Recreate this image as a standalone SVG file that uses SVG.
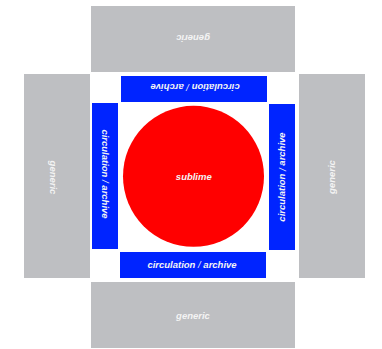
<svg xmlns="http://www.w3.org/2000/svg" width="382" height="349" viewBox="0 0 382 349">
<style>
.g{fill:#bebfc2}
.b{fill:#0024ff}
.t{font-family:"Liberation Sans",Arial,sans-serif;font-size:9.5px;font-weight:bold;font-style:italic;fill:#f4f4f4;text-anchor:middle;dominant-baseline:central}
.s{font-weight:normal}
</style>
<rect width="382" height="349" fill="#ffffff"/>
<g id="generic-top"><rect class="g" x="91" y="6" width="204" height="66"/><text class="t" transform="translate(193,38.5) rotate(180)">generic</text></g>
<g id="generic-left"><rect class="g" x="24" y="74" width="66" height="204"/><text class="t" transform="translate(53.5,177.5) rotate(90)">generic</text></g>
<g id="generic-right"><rect class="g" x="299" y="74" width="66" height="204"/><text class="t" transform="translate(331.5,177) rotate(-90)">generic</text></g>
<g id="generic-bottom"><rect class="g" x="91" y="282" width="204" height="66"/><text class="t" x="193" y="315">generic</text></g>
<g id="circ-top"><rect class="b" x="121" y="76" width="146" height="26"/><text class="t" transform="translate(195,87.5) rotate(180)">circulation <tspan class="s">/</tspan> archive</text></g>
<g id="circ-left"><rect class="b" x="92" y="103" width="26" height="146"/><text class="t" transform="translate(105.5,174) rotate(90)">circulation <tspan class="s">/</tspan> archive</text></g>
<g id="circ-right"><rect class="b" x="269" y="104" width="26" height="146"/><text class="t" transform="translate(281.5,177) rotate(-90)">circulation <tspan class="s">/</tspan> archive</text></g>
<g id="circ-bottom"><rect class="b" x="120" y="252" width="146" height="26"/><text class="t" x="192" y="264">circulation <tspan class="s">/</tspan> archive</text></g>
<g id="sublime"><circle cx="193.5" cy="176.3" r="70.5" fill="#ff0000"/><text class="t" x="193.8" y="176">sublime</text></g>
<g id="connectors"/>
</svg>
